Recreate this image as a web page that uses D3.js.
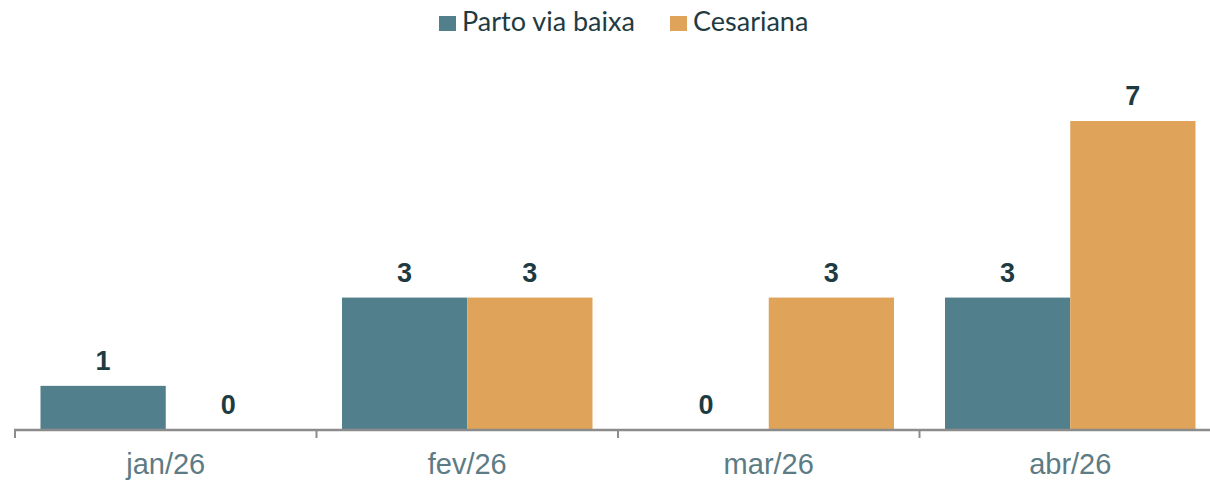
<!DOCTYPE html>
<html>
<head>
<meta charset="utf-8">
<script src="https://cdn.jsdelivr.net/npm/d3@7"></script>
<style>
  body { margin: 0; background: #fff; }
  svg { display: block; }
</style>
</head>
<body>
<svg id="chart" width="1210" height="481"></svg>
<script>
// chart data
var months = ["jan/26", "fev/26", "mar/26", "abr/26"];
var seriesNames = ["Parto via baixa", "Cesariana"];
var partoViaBaixa = [1, 3, 0, 3];
var cesariana = [0, 3, 3, 7];
var seriesColors = ["#527f8c", "#dfa35a"];

var svg = d3.select("#chart");
var W = 1210, H = 481;

var x0 = d3.scaleBand()
	.domain(months)
	.range([15, 15 + 301.5 * months.length])
	.padding(0);

// bars sit inside each month with a gap on both sides
var x1 = d3.scaleBand()
	.domain(seriesNames)
	.range([25.5, x0.bandwidth() - 25.5])
	.padding(0);

var y = d3.scaleLinear()
	.domain([0, 7])
	.range([430, 121]);

var rows = months.map(function(m, i){
	return {month: m, values: [partoViaBaixa[i], cesariana[i]]};
});

// bars
var groups = svg.selectAll(".month")
	.data(rows)
	.enter()
	.append("g")
	.attr("class", "month")
	.attr("transform", function(d){ return "translate(" + x0(d.month) + ",0)"; });

groups.selectAll("rect")
	.data(function(d){
		return d.values.map(function(v, j){ return {name: seriesNames[j], value: v, idx: j}; });
	})
	.enter()
	.append("rect")
	.attr("x", function(d){ return x1(d.name); })
	.attr("width", x1.bandwidth())
	.attr("y", function(d){ return y(d.value); })
	.attr("height", function(d){ return y(0) - y(d.value); })
	.style("fill", function(d){ return seriesColors[d.idx]; });

// value labels
groups.selectAll(".val")
	.data(function(d){
		return d.values.map(function(v, j){ return {name: seriesNames[j], value: v}; });
	})
	.enter()
	.append("text")
	.attr("class", "val")
	.attr("x", function(d){ return x1(d.name) + x1.bandwidth() / 2; })
	.attr("y", function(d){ return y(d.value) - 16; })
	.attr("text-anchor", "middle")
	.style("font-family", "'Liberation Sans', Arial, sans-serif")
	.style("font-weight", "bold")
	.style("font-size", "27px")
	.style("fill", "#1f3b42")
	.text(function(d){ return d.value; });

// x axis
var axis = svg.append("g")
	.attr("transform", "translate(0,430)");
axis.append("line")
	.attr("x1", 14).attr("x2", W)
	.attr("y1", 0).attr("y2", 0)
	.style("stroke", "#8c8c8c")
	.style("stroke-width", 2.5);
axis.selectAll(".tick-line")
	.data(months)
	.enter()
	.append("line")
	.attr("x1", function(d){ return x0(d); })
	.attr("x2", function(d){ return x0(d); })
	.attr("y1", 0).attr("y2", 8)
	.style("stroke", "#8c8c8c")
	.style("stroke-width", 2);
axis.selectAll(".tick-label")
	.data(months)
	.enter()
	.append("text")
	.attr("x", function(d){ return x0(d) + x0.bandwidth() / 2; })
	.attr("y", 44)
	.attr("text-anchor", "middle")
	.style("font-family", "'Liberation Sans', Arial, sans-serif")
	.style("font-size", "29px")
	.style("fill", "#5d7b84")
	.text(function(d){ return d; });

// legend
var legendX = [439, 670];
var legend = svg.selectAll(".legend")
	.data(seriesNames)
	.enter()
	.append("g")
	.attr("class", "legend")
	.attr("transform", function(d, i){ return "translate(" + legendX[i] + ",16)"; });
legend.append("rect")
	.attr("width", 17).attr("height", 15)
	.style("fill", function(d, i){ return seriesColors[i]; });
legend.append("text")
	.attr("x", 23)
	.attr("y", 15)
	.style("font-family", "Lato, 'Open Sans', sans-serif")
	.style("font-size", "27px")
	.style("fill", "#1f3b42")
	.text(function(d){ return d; });
</script>
</body>
</html>
